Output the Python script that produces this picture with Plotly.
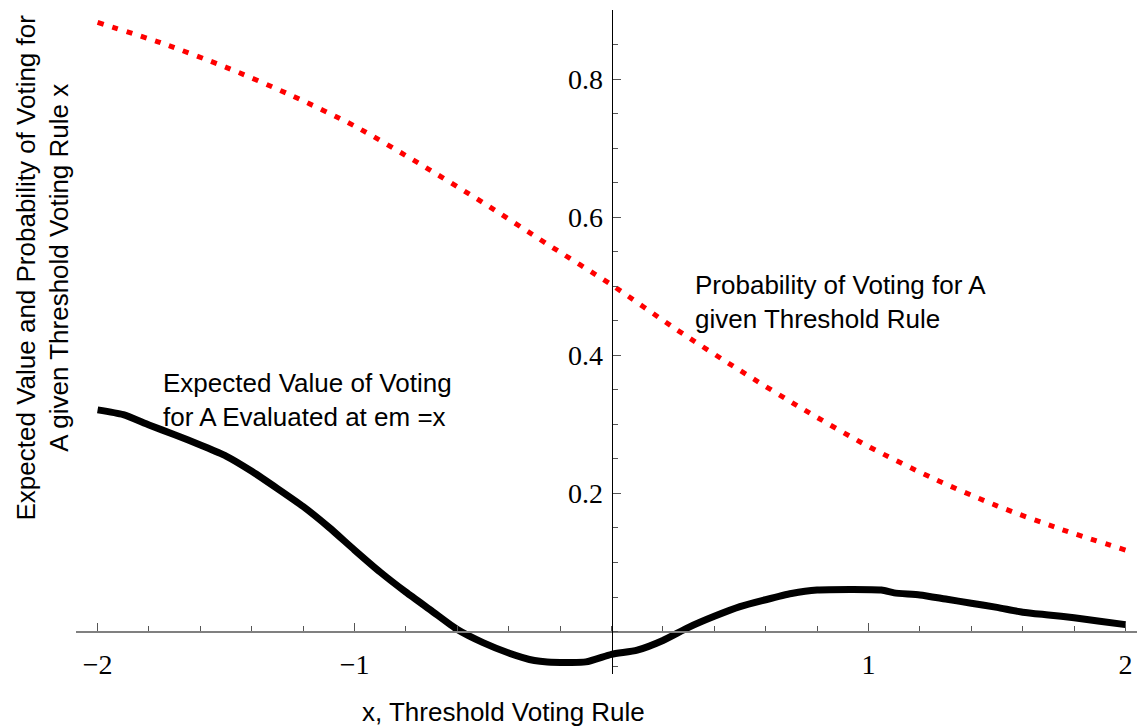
import plotly.graph_objects as go

# ---- data ----
prob_x = [-2.0, -1.75, -1.5, -1.25, -1.0, -0.75, -0.5, -0.25, 0.0,
          0.25, 0.5, 0.75, 1.0, 1.25, 1.5, 1.75, 2.0]
prob_y = [0.882, 0.852, 0.817, 0.777, 0.732, 0.678, 0.621, 0.561, 0.502,
          0.438, 0.378, 0.321, 0.268, 0.222, 0.182, 0.148, 0.118]

ev_x = [-2.0, -1.9, -1.8, -1.7, -1.6, -1.5, -1.4, -1.3, -1.2, -1.1, -1.0,
        -0.9, -0.8, -0.7, -0.6, -0.5, -0.4, -0.3, -0.25, -0.1, 0.0,
        0.1, 0.2, 0.3, 0.4, 0.5, 0.6, 0.7, 0.8, 1.05, 1.1, 1.2, 1.3,
        1.4, 1.5, 1.6, 1.7, 1.8, 1.9, 2.0]
ev_y = [0.321, 0.314, 0.299, 0.285, 0.270, 0.254, 0.232, 0.207, 0.181, 0.151, 0.118,
        0.086, 0.057, 0.030, 0.003, -0.016, -0.031, -0.042, -0.044, -0.044, -0.033,
        -0.027, -0.013, 0.006, 0.022, 0.036, 0.046, 0.055, 0.060, 0.060, 0.056, 0.053, 0.047,
        0.041, 0.035, 0.028, 0.024, 0.020, 0.015, 0.010]

x_tickvals = [-2, -1, 1, 2]
x_ticktext = ["\u22122", "\u22121", "1", "2"]
y_tickvals = [0.2, 0.4, 0.6, 0.8]
y_ticktext = ["0.2", "0.4", "0.6", "0.8"]

x_range = [-2.084, 2.076]
y_range = [-0.0615, 0.9]

fig = go.Figure()
fig.add_trace(go.Scatter(x=prob_x, y=prob_y, mode="lines",
                         line=dict(color="#ff0000", width=5, dash="6px,9px",
                                   shape="spline", smoothing=0.8),
                         hoverinfo="skip"))
fig.add_trace(go.Scatter(x=ev_x, y=ev_y, mode="lines",
                         line=dict(color="#000000", width=7, shape="spline", smoothing=0.6),
                         hoverinfo="skip"))

serif = dict(family="Liberation Serif", size=28, color="#000")
sans = dict(family="Liberation Sans", size=26, color="#000")

xpos = (0 - y_range[0]) / (y_range[1] - y_range[0])
ypos = (0 - x_range[0]) / (x_range[1] - x_range[0])

# the page adds an 8px body margin, so the figure is 8px smaller and offset
fig.update_layout(
    width=1137, height=720,
    margin=dict(l=68, r=0, t=2, b=54, autoexpand=False),
    paper_bgcolor="white", plot_bgcolor="white",
    showlegend=False,
    xaxis=dict(range=x_range, anchor="free", position=xpos, automargin=False,
               showline=True, linecolor="#808080", linewidth=1.5,
               showgrid=False, zeroline=False,
               ticks="inside", ticklen=8, tickwidth=1, tickcolor="#555",
               tickvals=x_tickvals, ticktext=x_ticktext, tickfont=serif,
               ticklabelstandoff=8,
               minor=dict(dtick=0.2, tick0=0, ticks="inside", ticklen=5,
                          tickwidth=1, tickcolor="#555")),
    yaxis=dict(range=y_range, anchor="free", position=ypos, automargin=False,
               showline=True, linecolor="#000", linewidth=1,
               showgrid=False, zeroline=False,
               ticks="inside", ticklen=8, tickwidth=1, tickcolor="#555",
               tickvals=y_tickvals, ticktext=y_ticktext, tickfont=serif,
               ticklabelstandoff=3,
               minor=dict(dtick=0.05, tick0=0, ticks="inside", ticklen=5,
                          tickwidth=1, tickcolor="#555")),
    annotations=[
        dict(x=0.318, y=0.4775, xref="x", yref="y", xanchor="left", yanchor="middle",
             align="left", showarrow=False, font=sans,
             text="Probability of Voting for A<br>given Threshold Rule"),
        dict(x=-1.752, y=0.335, xref="x", yref="y", xanchor="left", yanchor="middle",
             align="left", showarrow=False, font=sans,
             text="Expected Value of Voting<br>for A Evaluated at em =x"),
        dict(x=(503 - 76) / 1069, y=(674 - 712) / 664, xref="paper", yref="paper",
             xanchor="center", yanchor="middle", showarrow=False, font=sans,
             text="x, Threshold Voting Rule"),
        dict(x=(42.5 - 76) / 1069, y=(674 - 268) / 664, xref="paper", yref="paper",
             xanchor="center", yanchor="middle", showarrow=False, font=sans,
             textangle=-90, align="center",
             text="Expected Value and Probability of Voting for<br>A given Threshold Voting Rule x"),
    ],
)

fig.write_html("out.html")
